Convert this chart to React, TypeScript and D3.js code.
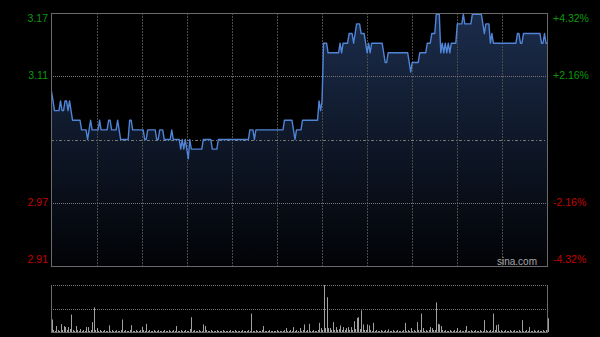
import React from "react";
import * as d3 from "d3";

const prevClose = 3.04;
const pctRange = 0.0432;

const prices: number[] = [
  3.09,3.08,3.07,3.07,3.07,3.07,3.08,3.07,3.07,3.08,
  3.08,3.07,3.08,3.07,3.06,3.06,3.06,3.06,3.06,3.06,
  3.05,3.05,3.05,3.05,3.04,3.05,3.06,3.05,3.05,3.05,
  3.05,3.05,3.06,3.05,3.05,3.05,3.05,3.05,3.06,3.06,
  3.05,3.05,3.05,3.05,3.06,3.05,3.04,3.04,3.04,3.04,
  3.04,3.04,3.06,3.06,3.05,3.05,3.05,3.05,3.05,3.05,
  3.05,3.05,3.04,3.04,3.05,3.05,3.05,3.05,3.05,3.05,
  3.04,3.04,3.05,3.05,3.05,3.04,3.04,3.04,3.04,3.04,
  3.05,3.04,3.04,3.04,3.04,3.04,3.03,3.04,3.03,3.04,
  3.03,3.02,3.04,3.03,3.03,3.03,3.03,3.03,3.03,3.03,
  3.03,3.04,3.04,3.04,3.04,3.04,3.04,3.03,3.03,3.03,
  3.03,3.04,3.04,3.04,3.04,3.04,3.04,3.04,3.04,3.04,
  3.04,3.04,3.04,3.04,3.04,3.04,3.04,3.04,3.04,3.04,
  3.04,3.04,3.05,3.05,3.05,3.04,3.05,3.05,3.05,3.05,
  3.05,3.05,3.05,3.05,3.05,3.05,3.05,3.05,3.05,3.05,
  3.05,3.05,3.05,3.05,3.05,3.06,3.06,3.06,3.06,3.06,
  3.06,3.05,3.04,3.05,3.05,3.05,3.05,3.06,3.06,3.06,
  3.06,3.06,3.06,3.06,3.06,3.06,3.06,3.06,3.08,3.07,
  3.08,3.14,3.14,3.14,3.13,3.13,3.13,3.13,3.13,3.13,
  3.13,3.13,3.14,3.13,3.14,3.14,3.14,3.14,3.15,3.15,
  3.15,3.14,3.15,3.16,3.16,3.16,3.15,3.15,3.15,3.14,
  3.13,3.14,3.13,3.14,3.14,3.14,3.14,3.14,3.14,3.14,
  3.14,3.13,3.12,3.12,3.13,3.13,3.13,3.13,3.13,3.13,
  3.13,3.13,3.13,3.13,3.13,3.13,3.13,3.13,3.12,3.11,
  3.12,3.12,3.12,3.12,3.12,3.13,3.13,3.13,3.13,3.13,
  3.14,3.14,3.14,3.15,3.15,3.15,3.17,3.17,3.17,3.13,
  3.14,3.13,3.14,3.13,3.14,3.13,3.14,3.14,3.14,3.14,
  3.16,3.16,3.16,3.16,3.17,3.16,3.16,3.16,3.16,3.16,
  3.17,3.17,3.17,3.17,3.17,3.17,3.17,3.16,3.15,3.16,
  3.16,3.16,3.14,3.15,3.14,3.14,3.14,3.14,3.14,3.14,
  3.14,3.14,3.14,3.14,3.14,3.14,3.14,3.14,3.14,3.14,
  3.15,3.15,3.14,3.14,3.15,3.15,3.15,3.15,3.15,3.15,
  3.15,3.15,3.15,3.15,3.15,3.15,3.14,3.14,3.15,3.14,3.14,
];

const volumes: number[] = [
  12.7,2,1,6,2,1,8,2,6,5,
  2,5,3,17.7,2,1,6,2,1,3,
  1,2,1,5,5,1,2,10,25,2,
  4,1,2,1,1,2,1,1,6.7,1,
  2,1,1,2,1,1,2,12.7,1,2,
  1,1,2,7,1,1,2,1,1,2,
  5.3,2,1,8.3,1,2,1,1,2,1,
  1,2,1,1,1,2,1,1,2,1,
  1,2,1,6,1,1,2,1,1,2,
  1,1,3,15,1,2,1,1,2,1,
  1,7.7,6,2,1,1,2,1,1,1,
  2,1,1,1,2,1,1,1,1,2,
  1,1,2,1,1,1,1,2,1,1,
  1,2,1,18.7,1,1,2,1,1,1,
  2,6,1,1,1,2,1,1,1,1,
  2,1,1,1,1,2,4,1,1,2,
  1,5,1,2,1,4,1,2,7.7,1,
  2,8.3,1,1,2,1,1,2,9.3,4,
  2,47.7,4,35.3,4,4,2,10,2,5,
  2,3,6.7,2,5,2,4,5,2,5,
  2,11,3,14.3,15,3,22,7.7,2,2,
  7.7,6.7,2,1,9.3,1,2,1,1,2,
  1,1,2,1,2.7,1,1,2,1,1,
  2,1,1,1,2,9.3,1,2,1,4,
  1,2,1,10,2,2,18.7,4,1,2,
  1,2,5,4,2,2,30,8.3,7.7,6,
  2,1,2,1,1,2,1,1,2,1,
  4,1,2,1,1,2,6,1,1,2,
  1,1,2,1,1,2,1,1,12,2,
  1,1,2,1,18.7,2,7,7.7,1,2,
  1,1,2,1,1,2,1,1,2,1,
  1,2,1,12,1,1,2,1,5,1,
  1,2,1,1,2,1,1,2,1,2,
  14,
];

const priceLabels = ["3.17", "3.11", "2.97", "2.91"];
const pctTicks = [0.0432, 0.0216, -0.0216, -0.0432];
const pctLabels = ["+4.32%", "+2.16%", "-2.16%", "-4.32%"];
const timeTicks = [30, 60, 90, 120, 150, 180, 210, 240, 270, 300];
const totalMinutes = 330;

export default function App() {
  const L = 51, R = 548, T = 13, B = 266;
  const VT = 285, VB = 332;
  const x = d3.scaleLinear().domain([0, totalMinutes]).range([L + 0.5, R - 0.5]);
  const y = d3
    .scaleLinear()
    .domain([prevClose * (1 - pctRange), prevClose * (1 + pctRange)])
    .range([B, T]);
  const vy = d3.scaleLinear().domain([0, d3.max(volumes) as number]).range([VB, VT]);

  const line = d3
    .line<number>()
    .x((_, i) => x(i))
    .y((d) => y(d));
  const area = d3
    .area<number>()
    .x((_, i) => x(i))
    .y0(B)
    .y1((d) => y(d));

  const font = "'Liberation Sans', Arial, sans-serif";
  const gx = (m: number) => Math.round(x(m)) + 0.5;

  return (
    <svg
      width={600}
      height={337}
      style={{ position: "absolute", left: 0, top: 0, background: "#000" }}
    >
      <defs>
        <linearGradient id="areaGrad" x1="0" y1={T} x2="0" y2={B} gradientUnits="userSpaceOnUse">
          <stop offset="0" stopColor="#1b2c4b" />
          <stop offset="0.5" stopColor="#0f1829" />
          <stop offset="1" stopColor="#020306" />
        </linearGradient>
      </defs>
      <rect x={0} y={0} width={600} height={337} fill="#000" />
      <path d={area(prices) as string} fill="url(#areaGrad)" />

      {timeTicks.map((m) => (
        <line
          key={m}
          x1={gx(m)}
          x2={gx(m)}
          y1={T}
          y2={B}
          stroke="#4a4a4a"
          strokeDasharray="2,1"
        />
      ))}
      {pctTicks.slice(1, 3).map((p) => {
        const yy = Math.round(y(prevClose * (1 + p))) + 0.5;
        return (
          <line key={p} x1={L} x2={R} y1={yy} y2={yy} stroke="#777" strokeDasharray="1,1" />
        );
      })}
      <line
        x1={L}
        x2={R}
        y1={Math.round(y(prevClose)) + 0.5}
        y2={Math.round(y(prevClose)) + 0.5}
        stroke="#777"
        strokeDasharray="3,2,1,2"
      />

      <path d={line(prices) as string} fill="none" stroke="#4f84d6" strokeWidth={1.4} strokeLinejoin="round" />

      <rect x={L + 0.5} y={T + 0.5} width={R - L - 1} height={B - T} fill="none" stroke="#6a6a6a" />

      {pctTicks.map((p, i) => {
        const yy = y(prevClose * (1 + p)) + (i === 0 ? 6 : i === 3 ? -6 : 0);
        const color = p > 0 ? "#0a9a0a" : "#c40000";
        return (
          <g key={p}>
            <text
              x={48}
              y={yy}
              textAnchor="end"
              dominantBaseline="middle"
              fontFamily={font}
              fontSize={10.5}
              fill={color}
            >
              {priceLabels[i]}
            </text>
            <text
              x={553}
              y={yy}
              textAnchor="start"
              dominantBaseline="middle"
              fontFamily={font}
              fontSize={10.5}
              fill={color}
            >
              {pctLabels[i]}
            </text>
          </g>
        );
      })}
      <text x={537} y={262} textAnchor="end" dominantBaseline="middle" fontFamily={font} fontSize={10} fill="#a8a8a8">
        sina.com
      </text>

      {/* volume panel */}
      <line x1={L} x2={R} y1={VT + 0.5} y2={VT + 0.5} stroke="#777" strokeDasharray="1,1" />
      <line
        x1={L}
        x2={R}
        y1={Math.round((VT + VB) / 2) + 0.5}
        y2={Math.round((VT + VB) / 2) + 0.5}
        stroke="#777"
        strokeDasharray="1,1"
      />
      {volumes.map((v, i) => (
        <line
          key={i}
          x1={Math.round(x(i)) + 0.5}
          x2={Math.round(x(i)) + 0.5}
          y1={VB}
          y2={vy(v)}
          stroke="#a0a0a0"
          strokeWidth={1}
        />
      ))}
      <line x1={L} x2={R} y1={VB + 0.5} y2={VB + 0.5} stroke="#6a6a6a" />
      <line x1={L + 0.5} x2={L + 0.5} y1={VT} y2={VB + 1} stroke="#6a6a6a" />
      <line x1={R - 0.5} x2={R - 0.5} y1={VT} y2={VB + 1} stroke="#6a6a6a" />
    </svg>
  );
}
